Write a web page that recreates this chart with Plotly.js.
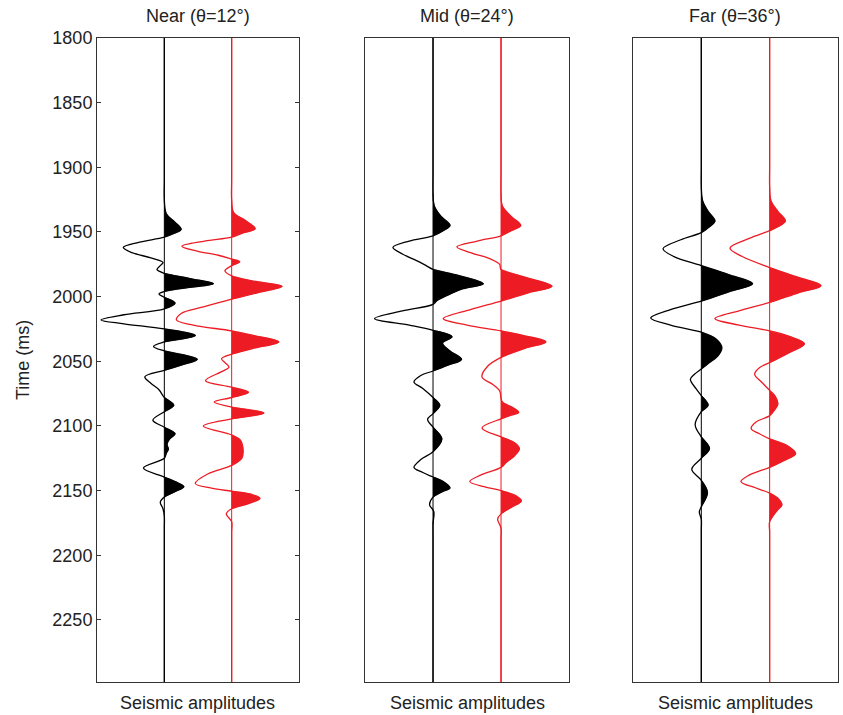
<!DOCTYPE html>
<html>
<head>
<meta charset="utf-8">
<script src="https://cdn.plot.ly/plotly-3.0.1.min.js"></script>
<style>html,body{margin:0;padding:0;background:#fff;}#chart{width:843px;height:715px;}</style>
</head>
<body>
<div id="chart"></div>
<script>
// ---- Data (time in ms, amplitude in trace units) ----
var panelTitles = ["Near (\u03b8=12\u00b0)", "Mid (\u03b8=24\u00b0)", "Far (\u03b8=36\u00b0)"];
var xLabel = "Seismic amplitudes";
var yLabel = "Time (ms)";
var yTicks = [1800, 1850, 1900, 1950, 2000, 2050, 2100, 2150, 2200, 2250];
var timeRange = [1800, 2298];

var nearBlackT = [1800,1880,1910,1925,1936,1942,1948,1951,1954,1958,1962,1966,1970,1973.5,1976,1979,1982,1986,1990,1993,1996,1998,2000.5,2005,2009.5,2014,2018,2021,2025,2030,2035,2038.5,2042,2048.5,2053,2057,2062,2067,2072,2078,2084,2089,2095.5,2101,2106,2110,2114,2118,2121,2125,2132.5,2139.5,2144,2147,2151,2155,2159,2164,2170,2178,2190,2220,2298];
var nearBlackA = [0,0,0,0,0.03,0.15,0.25,0.15,0,-0.38,-0.61,-0.48,-0.2,-0.02,-0.06,-0.11,0,0.38,0.73,0.35,0,-0.08,0,0.16,0,-0.6,-0.94,-0.6,0,0.46,0,-0.16,0,0.49,0.25,0,-0.29,-0.2,-0.08,0,0.14,0,-0.17,0,0.16,0.08,0.04,0.06,0.03,0,-0.31,0,0.2,0.29,0.15,0,-0.06,-0.02,0,0,0,0,0];

var nearRedT = [1800,1880,1910,1925,1935,1941,1947.5,1951,1954,1957,1961,1965,1968,1971,1973,1976,1980,1984,1988,1992,1997,2002,2008,2013,2018,2022,2026.5,2030,2035,2040,2044.5,2048,2051,2054.5,2058,2065,2070,2074,2078,2081.5,2085.5,2090,2094.5,2100,2107,2111,2115,2120,2125,2130.5,2137,2144.5,2148,2150.5,2153,2156,2160,2164,2168,2174,2182,2194,2220,2298];
var nearRedA = [0,0,0,0,0.03,0.2,0.35,0.15,0,-0.4,-0.74,-0.5,-0.2,0,0.12,0,-0.1,0,0.32,0.75,0.38,0,-0.42,-0.75,-0.82,-0.57,0,0.32,0.7,0.32,0,-0.15,-0.1,-0.04,-0.15,-0.39,0,0.25,0,-0.26,0,0.48,0,-0.42,0,0.13,0.16,0.17,0.15,0,-0.35,-0.54,-0.3,0,0.3,0.42,0.25,0,-0.08,0,0,0,0,0];

var midBlackT = [1800,1880,1905,1920,1930,1938,1945,1949,1953,1957,1962,1967,1972,1976,1979,1983,1990,1994,1998,2003,2006,2011,2017,2022,2026,2031,2036,2042,2048.5,2053,2057.5,2061,2066,2071,2078,2084,2090.5,2095,2101,2110,2120,2126,2132,2136,2139.5,2143,2148,2151,2155,2161,2166,2176,2186,2200,2230,2298];
var midBlackA = [0,0,0,0,0.02,0.12,0.25,0.15,0,-0.35,-0.59,-0.45,-0.25,-0.1,0,0.33,0.74,0.43,0.25,0.06,0,-0.45,-0.86,-0.35,0,0.28,0.14,0.25,0.42,0.22,0,-0.18,-0.28,-0.15,0,0.10,0,-0.08,0,0.13,0,-0.18,-0.28,-0.15,0,0.15,0.25,0.13,0,-0.05,0.01,0,0,0,0,0];

var midRedT = [1800,1880,1905,1920,1930,1938,1945,1949,1953,1957,1961.5,1966,1971,1975,1979,1985,1992,1997,2003.5,2010,2017,2022,2026.5,2030,2035,2040,2047,2054,2062,2068,2073,2078,2081.5,2086,2089.5,2092,2094.5,2101.5,2108.5,2113,2117.5,2123,2128,2132,2138,2143,2147,2150,2154,2158,2163,2168,2172,2179,2188,2200,2230,2298];
var midRedA = [0,0,0,0,0.02,0.15,0.29,0.15,0,-0.35,-0.65,-0.45,-0.15,-0.02,0,0.35,0.75,0.4,0,-0.45,-0.85,-0.5,0,0.32,0.66,0.35,0,-0.2,-0.28,-0.12,-0.02,0,0.02,0.18,0.26,0.13,0,-0.28,0,0.2,0.27,0.2,0.08,0,-0.3,-0.46,-0.25,0,0.22,0.3,0.15,0,-0.05,0,0,0,0,0];

var farBlackT = [1800,1870,1900,1915,1926,1934,1941.5,1946,1950.5,1956,1963,1969,1976,1983,1990,1996,2003.5,2010,2016.5,2022,2027.5,2033,2039.5,2046,2051,2056,2060,2064,2071,2076.5,2084,2089,2099,2108.5,2117.5,2125,2133.5,2142,2151.5,2162.5,2166.5,2172,2180,2192,2220,2298];
var farBlackA = [0,0,0,0,0.02,0.1,0.2,0.12,0,-0.3,-0.56,-0.4,0,0.4,0.75,0.42,0,-0.45,-0.74,-0.45,0,0.22,0.30,0.24,0.12,0,-0.1,-0.16,-0.08,0,0.10,0,-0.09,0,0.12,0,-0.14,0,0.09,0,-0.03,0,0,0,0,0];

var farRedT = [1800,1870,1900,1915,1926,1934,1941.5,1946,1949,1955,1962.5,1969,1977.5,1984,1991.5,1997,2004.5,2011,2017,2022,2026.5,2031,2036.5,2043,2051,2055,2060,2066,2072.5,2077,2083,2087,2092,2097,2102,2106,2110,2115,2121.5,2127,2132,2138,2143,2148,2152,2157,2161,2166,2174,2182,2194,2220,2298];
var farRedA = [0,0,0,0,0.02,0.12,0.23,0.12,0,-0.3,-0.58,-0.4,0,0.35,0.75,0.42,0,-0.45,-0.8,-0.45,0,0.3,0.51,0.3,0,-0.15,-0.22,-0.12,0,0.08,0.12,0.08,0,-0.2,-0.27,-0.15,0,0.25,0.38,0.2,0,-0.3,-0.42,-0.2,0,0.14,0.18,0.1,0,0,0,0,0];

var traceBaselines = [1, 2];
var blackColor = "#000000";
var redColor = "#ed1c24";

// ---- Build figure ----
var panels = [
  [{t: nearBlackT, a: nearBlackA, color: blackColor, base: traceBaselines[0]}, {t: nearRedT, a: nearRedA, color: redColor, base: traceBaselines[1]}],
  [{t: midBlackT, a: midBlackA, color: blackColor, base: traceBaselines[0]}, {t: midRedT, a: midRedA, color: redColor, base: traceBaselines[1]}],
  [{t: farBlackT, a: farBlackA, color: blackColor, base: traceBaselines[0]}, {t: farRedT, a: farRedA, color: redColor, base: traceBaselines[1]}]
];

var data = [];
panels.forEach(function (panel, pi) {
  var xa = pi === 0 ? 'x' : 'x' + (pi + 1);
  var ya = pi === 0 ? 'y' : 'y' + (pi + 1);
  panel.forEach(function (s) {
    // baseline
    data.push({x: [s.base, s.base], y: timeRange, xaxis: xa, yaxis: ya, mode: 'lines',
      line: {color: s.color, width: 1}, hoverinfo: 'skip', showlegend: false});
    // positive lobes filled
    var i = 0, n = s.a.length;
    while (i < n) {
      if (s.a[i] > 0) {
        var lx = [], ly = [];
        var p = i - 1;
        var tc0 = s.a[p] === 0 ? s.t[p] : s.t[p] + (s.t[i] - s.t[p]) * (0 - s.a[p]) / (s.a[i] - s.a[p]);
        lx.push(s.base); ly.push(tc0);
        while (i < n && s.a[i] > 0) { lx.push(s.base + s.a[i]); ly.push(s.t[i]); i++; }
        var q = i - 1;
        var tc1 = s.a[i] === 0 ? s.t[i] : s.t[q] + (s.t[i] - s.t[q]) * (0 - s.a[q]) / (s.a[i] - s.a[q]);
        lx.push(s.base); ly.push(tc1);
        data.push({x: lx, y: ly, xaxis: xa, yaxis: ya, mode: 'lines', fill: 'toself',
          fillcolor: s.color, line: {color: s.color, width: 0.5, shape: 'spline'},
          hoverinfo: 'skip', showlegend: false});
      } else { i++; }
    }
    // wiggle line
    data.push({x: s.a.map(function (v) { return s.base + v; }), y: s.t, xaxis: xa, yaxis: ya,
      mode: 'lines', line: {color: s.color, width: 1.3, shape: 'spline'}, hoverinfo: 'skip', showlegend: false});
  });
});

var font = {family: 'Liberation Sans, Arial, sans-serif', size: 18, color: '#222'};
var domains = [[0, 0.2726], [0.3617, 0.637], [0.7233, 1]];
var layout = {
  width: 843, height: 715,
  margin: {l: 97, r: 5, t: 38, b: 33},
  paper_bgcolor: '#fff', plot_bgcolor: '#fff',
  font: font,
  showlegend: false,
  annotations: []
};
domains.forEach(function (d, i) {
  var sfx = i === 0 ? '' : String(i + 1);
  layout['xaxis' + sfx] = {domain: d, range: [0, 3], anchor: 'y' + sfx, showticklabels: false, ticks: '',
    showgrid: false, zeroline: false, showline: true, mirror: true, linecolor: '#333', linewidth: 1, fixedrange: true};
  layout['yaxis' + sfx] = {range: [timeRange[1], timeRange[0]], anchor: 'x' + sfx, showgrid: false, zeroline: false,
    showline: true, mirror: i === 0 ? 'ticks' : true, linecolor: '#333', linewidth: 1,
    tickvals: i === 0 ? yTicks : [], ticktext: i === 0 ? yTicks.map(String) : [],
    ticks: i === 0 ? 'inside' : '', ticklen: 4, tickcolor: '#333', showticklabels: i === 0,
    tickfont: font, fixedrange: true};
  var cx = (d[0] + d[1]) / 2;
  layout.annotations.push({text: panelTitles[i], x: cx, y: 1.0342, xref: 'paper', yref: 'paper',
    xanchor: 'center', yanchor: 'middle', showarrow: false, font: font});
  layout.annotations.push({text: xLabel, x: cx, y: -0.0326, xref: 'paper', yref: 'paper',
    xanchor: 'center', yanchor: 'middle', showarrow: false, font: font});
});
layout.annotations.push({text: yLabel, x: -0.0999, y: 0.5, xref: 'paper', yref: 'paper', textangle: -90,
  xanchor: 'center', yanchor: 'middle', showarrow: false, font: font});

Plotly.newPlot('chart', data, layout, {displayModeBar: false, staticPlot: true});
</script>
</body>
</html>
